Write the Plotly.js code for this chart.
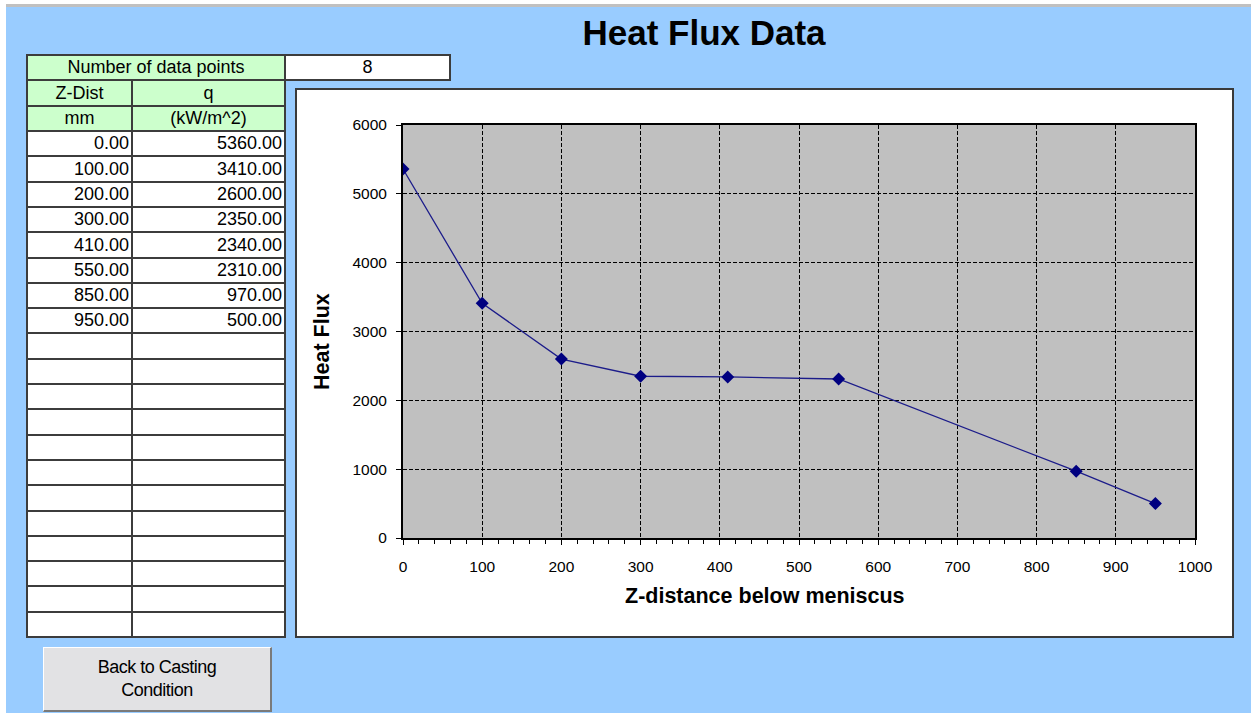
<!DOCTYPE html>
<html>
<head>
<meta charset="utf-8">
<script src="https://cdn.plot.ly/plotly-3.0.1.min.js"></script>
<style>
  html, body { margin: 0; padding: 0; background: #ffffff; width: 1251px; height: 713px; overflow: hidden; }
  .abs { position: absolute; box-sizing: border-box; }
  .cell { position: absolute; box-sizing: border-box; border: 2px solid #3c3c3c;
          font-family: "Liberation Sans", Arial, sans-serif; font-size: 18px; color: #000;
          display: flex; align-items: center; white-space: nowrap; }
  #chart { position: absolute; left: 0; top: 0; width: 1251px; height: 713px; }
</style>
</head>
<body>
<div class="abs" style="left:6px;top:7px;width:1245px;height:706px;background:#99ccff;"></div>
<div class="abs" style="left:6px;top:4px;width:1245px;height:3px;background:#c0c0c0;"></div>
<div class="abs" style="left:295px;top:88px;width:939px;height:550px;background:#ffffff;border:2px solid #3a3a3a;"></div>
<div id="table"></div>
<div class="abs" id="btn" style="left:43px;top:647px;width:229px;height:65px;background:#e2e2e4;
     border-top:1px solid #ffffff;border-left:1px solid #ffffff;border-right:2px solid #7a7a7a;border-bottom:2px solid #7a7a7a;
     display:flex;align-items:center;justify-content:center;text-align:center;
     font-family:'Liberation Sans',Arial,sans-serif;font-size:18px;line-height:23px;color:#000;letter-spacing:-0.5px;">
  Back to Casting<br>Condition
</div>
<div id="chart"></div>
<script>
// ---- data ----
var zDist = [0, 100, 200, 300, 410, 550, 850, 950];          // mm
var heatFlux = [5360, 3410, 2600, 2350, 2340, 2310, 970, 500]; // kW/m^2
var headerCount = "Number of data points";
var colHeaders = ["Z-Dist", "q"];
var colUnits = ["mm", "(kW/m^2)"];
var totalRows = 20;
var chartTitle = "Heat Flux Data";
var xTitle = "Z-distance below meniscus";
var yTitle = "Heat Flux";

// ---- table (HTML) ----
(function () {
  var t = document.getElementById('table');
  function cell(x0, y0, x1, y1, text, bg, align) {
    var d = document.createElement('div');
    d.className = 'cell';
    d.style.left = (x0 - 1) + 'px';
    d.style.top = (y0 - 1) + 'px';
    d.style.width = (x1 - x0 + 2) + 'px';
    d.style.height = (y1 - y0 + 2) + 'px';
    d.style.background = bg;
    if (align === 'right') { d.style.justifyContent = 'flex-end'; d.style.paddingRight = '2px'; }
    else { d.style.justifyContent = 'center'; }
    d.textContent = text;
    t.appendChild(d);
  }
  var xa = 27, xb = 132, xc = 285, xd = 450;
  var green = '#ccffcc';
  cell(xa, 55, xc, 80, headerCount, green, 'center');
  cell(xc, 55, xd, 80, String(zDist.length), '#ffffff', 'center');
  cell(xa, 80, xb, 106, colHeaders[0], green, 'center');
  cell(xb, 80, xc, 106, colHeaders[1], green, 'center');
  cell(xa, 106, xb, 131, colUnits[0], green, 'center');
  cell(xb, 106, xc, 131, colUnits[1], green, 'center');
  var top0 = 131, rh = (637 - 131) / totalRows;
  for (var i = 0; i < totalRows; i++) {
    var y0 = Math.round(top0 + i * rh), y1 = Math.round(top0 + (i + 1) * rh);
    var a = i < zDist.length ? zDist[i].toFixed(2) : '';
    var b = i < heatFlux.length ? heatFlux[i].toFixed(2) : '';
    cell(xa, y0, xb, y1, a, '#ffffff', 'right');
    cell(xb, y0, xc, y1, b, '#ffffff', 'right');
  }
})();

// ---- chart ----
var FONT = '"Liberation Sans", Arial, sans-serif';
var W = 1251, H = 713;
var trace = {
  x: zDist,
  y: heatFlux,
  type: 'scatter',
  mode: 'lines+markers',
  line: { color: '#1c1c8a', width: 1.3 },
  marker: { symbol: 'diamond', size: 10, color: '#000080' },
  hoverinfo: 'skip'
};
var layout = {
  width: W,
  height: H,
  autosize: false,
  margin: { l: 403, r: 56, t: 125, b: 175, pad: 0 },
  paper_bgcolor: 'rgba(0,0,0,0)',
  plot_bgcolor: '#c0c0c0',
  showlegend: false,
  font: { family: FONT, color: '#000' },
  title: {
    text: '<b>' + chartTitle + '</b>',
    font: { family: FONT, size: 35, color: '#000' },
    x: 704 / W, xref: 'container', xanchor: 'center',
    y: 1 - 33 / H, yref: 'container', yanchor: 'middle'
  },
  xaxis: {
    range: [0, 1000], tick0: 0, dtick: 100,
    ticks: 'outside', ticklen: 5, tickwidth: 1, tickcolor: '#000',
    tickfont: { family: FONT, size: 15.5, color: '#000' },
    ticklabelstandoff: 8,
    showgrid: true, gridcolor: '#000', gridwidth: 1, griddash: '4px,2px',
    showline: true, linecolor: '#000', linewidth: 2, mirror: true,
    zeroline: false, automargin: false,
    minor: { tick0: 0, dtick: 20, ticks: 'outside', ticklen: 4, tickwidth: 1, tickcolor: '#000', showgrid: false }
  },
  yaxis: {
    range: [0, 6000], tick0: 0, dtick: 1000,
    ticks: 'outside', ticklen: 5, tickwidth: 1, tickcolor: '#000',
    tickfont: { family: FONT, size: 15.5, color: '#000' },
    ticklabelstandoff: 6,
    showgrid: true, gridcolor: '#000', gridwidth: 1, griddash: '4px,2px',
    showline: true, linecolor: '#000', linewidth: 2, mirror: true,
    zeroline: false, automargin: false
  },
  annotations: [
    {
      text: '<b>' + xTitle + '</b>', showarrow: false,
      xref: 'paper', yref: 'paper',
      x: (765 - 403) / (1195 - 403), y: -(596 - 538) / (538 - 125),
      xanchor: 'center', yanchor: 'middle',
      font: { family: FONT, size: 21.5, color: '#000' }
    },
    {
      text: '<b>' + yTitle + '</b>', showarrow: false, textangle: -90,
      xref: 'paper', yref: 'paper',
      x: -(403 - 322) / (1195 - 403), y: (538 - 342) / (538 - 125),
      xanchor: 'center', yanchor: 'middle',
      font: { family: FONT, size: 21.5, color: '#000' }
    }
  ]
};
Plotly.newPlot('chart', [trace], layout, { displayModeBar: false, staticPlot: true });
</script>
</body>
</html>
